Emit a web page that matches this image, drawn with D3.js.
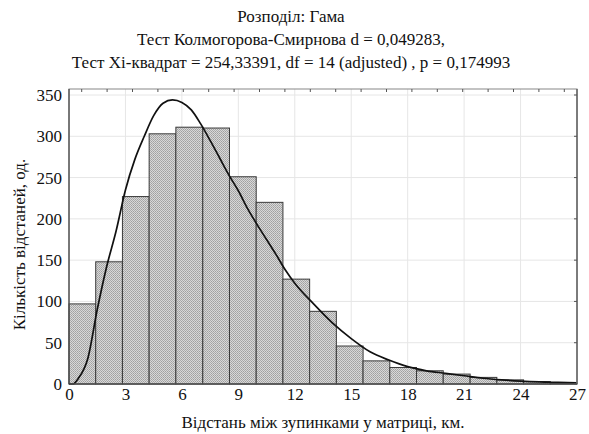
<!DOCTYPE html>
<html>
<head>
<meta charset="utf-8">
<script src="https://cdn.jsdelivr.net/npm/d3@7"></script>
<style>
  body { margin: 0; background: #fff; }
</style>
</head>
<body>
<svg id="chart" width="589" height="434"></svg>
<script>
// histogram bins (km) and counts
var binEdges = [0, 1.42, 2.84, 4.26, 5.68, 7.11, 8.53, 9.95, 11.37, 12.79, 14.21,
                15.63, 17.05, 18.47, 19.89, 21.32, 22.74, 24.16, 25.58, 27.0];
var binCounts = [97, 148, 227, 303, 311, 310, 251, 220, 127, 88, 46, 28, 20, 16, 12, 8, 5, 3, 1];

// fitted gamma curve
var curveX = [0, 0.2, 0.5, 1, 1.5, 2, 2.5, 3, 3.5, 4, 4.5, 5, 5.5, 6, 6.5, 7, 7.5, 8, 8.5, 9,
              9.5, 10, 10.5, 11, 11.5, 12, 13, 14, 15, 16, 17, 18, 19, 20, 21, 22, 23, 24, 25, 26, 27];
var curveY = [0, 0, 7, 31, 90, 142, 185, 235, 272, 300, 325, 340, 344, 341, 332, 315, 295, 274, 253, 234,
              212, 193, 175, 157, 138, 122, 97, 74, 55, 39, 29, 21, 16, 13, 10, 7, 5, 3.5, 2.5, 2, 1.5];

var xTicks = [0, 3, 6, 9, 12, 15, 18, 21, 24, 27];
var yTicks = [0, 50, 100, 150, 200, 250, 300, 350];

var titleLines = ["Розподіл: Гама",
                  "Тест Колмогорова-Смирнова d = 0,049283,",
                  "Тест Xi-квадрат = 254,33391, df = 14 (adjusted) , p = 0,174993"];
var xTitle = "Відстань між зупинками у матриці, км.";
var yTitle = "Кількість відстаней, од.";

var serif = "'Liberation Serif', 'DejaVu Serif', serif";

function drawChart() {
	var svg = d3.select("#chart");
	var margin = {top: 89, right: 12, bottom: 50, left: 69},
		width = 589 - margin.left - margin.right,
		height = 434 - margin.top - margin.bottom;

	var x = d3.scaleLinear().domain([0, 27]).range([0, width]);
	var y = d3.scaleLinear().domain([0, 350]).range([height, 6]);

	// dotted fill for bars
	var pat = svg.append("defs").append("pattern")
		.attr("id", "dots")
		.attr("width", 2).attr("height", 2)
		.attr("patternUnits", "userSpaceOnUse");
	pat.append("rect").attr("width", 2).attr("height", 2).attr("fill", "#d8d8d8");
	pat.append("rect").attr("width", 1).attr("height", 1).attr("fill", "#a0a0a0");
	pat.append("rect").attr("x", 1).attr("y", 1).attr("width", 1).attr("height", 1).attr("fill", "#acacac");

	// titles
	svg.selectAll(".title")
		.data(titleLines)
	  .enter().append("text")
		.attr("class", "title")
		.attr("x", 291)
		.attr("y", function(d, i) { return 22 + i * 23; })
		.attr("text-anchor", "middle")
		.attr("font-family", serif)
		.attr("font-size", 17)
		.attr("fill", "#111")
		.text(function(d) { return d; });

	var chart = svg.append("g")
		.attr("transform", "translate(" + margin.left + "," + margin.top + ")");

	// grid
	chart.selectAll(".gx")
		.data(xTicks)
	  .enter().append("line")
		.attr("x1", function(d) { return x(d); })
		.attr("x2", function(d) { return x(d); })
		.attr("y1", 0).attr("y2", height)
		.attr("stroke", "#e6e6e6");
	chart.selectAll(".gy")
		.data(yTicks)
	  .enter().append("line")
		.attr("x1", 0).attr("x2", width)
		.attr("y1", function(d) { return y(d); })
		.attr("y2", function(d) { return y(d); })
		.attr("stroke", "#e6e6e6");

	// bars
	chart.selectAll(".bar")
		.data(binCounts)
	  .enter().append("rect")
		.attr("class", "bar")
		.attr("x", function(d, i) { return x(binEdges[i]); })
		.attr("width", function(d, i) { return x(binEdges[i + 1]) - x(binEdges[i]); })
		.attr("y", function(d) { return y(d); })
		.attr("height", function(d) { return height - y(d); })
		.attr("fill", "url(#dots)")
		.attr("stroke", "#3a3a3a")
		.attr("stroke-width", 1);

	// fitted curve
	var line = d3.line()
		.x(function(d, i) { return x(curveX[i]); })
		.y(function(d) { return y(d); })
		.curve(d3.curveMonotoneX);
	chart.append("path")
		.datum(curveY)
		.attr("d", line)
		.attr("fill", "none")
		.attr("stroke", "#111")
		.attr("stroke-width", 1.7);

	// frame
	chart.append("rect")
		.attr("width", width).attr("height", height)
		.attr("fill", "none")
		.attr("stroke", "#888");
	chart.append("line")
		.attr("x1", width).attr("x2", width)
		.attr("y1", 0).attr("y2", height)
		.attr("stroke", "#666").attr("stroke-width", 1.5);
	chart.append("line")
		.attr("x1", 0).attr("x2", width)
		.attr("y1", height).attr("y2", height)
		.attr("stroke", "#333");
	chart.append("line")
		.attr("x1", 0).attr("x2", 0)
		.attr("y1", 0).attr("y2", height)
		.attr("stroke", "#333");

	// axes
	var xAxis = d3.axisBottom(x).tickValues(xTicks).tickSize(0).tickPadding(4);
	var yAxis = d3.axisLeft(y).tickValues(yTicks).tickSize(0).tickPadding(7);
	var gx = chart.append("g")
		.attr("transform", "translate(0," + height + ")")
		.call(xAxis);
	var gy = chart.append("g").call(yAxis);
	[gx, gy].forEach(function(g) {
		g.attr("font-family", serif).attr("font-size", 17);
		g.select(".domain").remove();
		g.selectAll("text").attr("fill", "#111");
	});

	// inner ticks on top and right
	var topTicks = d3.range(20).map(function(k) { return (k + 0.5) * 27 / 20; });
	chart.selectAll(".tt")
		.data(topTicks)
	  .enter().append("line")
		.attr("x1", function(d) { return x(d); })
		.attr("x2", function(d) { return x(d); })
		.attr("y1", 0).attr("y2", 3)
		.attr("stroke", "#555");
	chart.selectAll(".rt")
		.data(yTicks)
	  .enter().append("line")
		.attr("x1", width - 3).attr("x2", width)
		.attr("y1", function(d) { return y(d); })
		.attr("y2", function(d) { return y(d); })
		.attr("stroke", "#555");

	// axis titles
	svg.append("text")
		.attr("x", margin.left + width / 2)
		.attr("y", 428)
		.attr("text-anchor", "middle")
		.attr("font-family", serif)
		.attr("font-size", 17)
		.attr("fill", "#111")
		.text(xTitle);
	svg.append("text")
		.attr("transform", "translate(25," + (margin.top + height / 2 + 8) + ") rotate(-90)")
		.attr("text-anchor", "middle")
		.attr("font-family", serif)
		.attr("font-size", 17)
		.attr("fill", "#111")
		.text(yTitle);
}

drawChart();
</script>
</body>
</html>
